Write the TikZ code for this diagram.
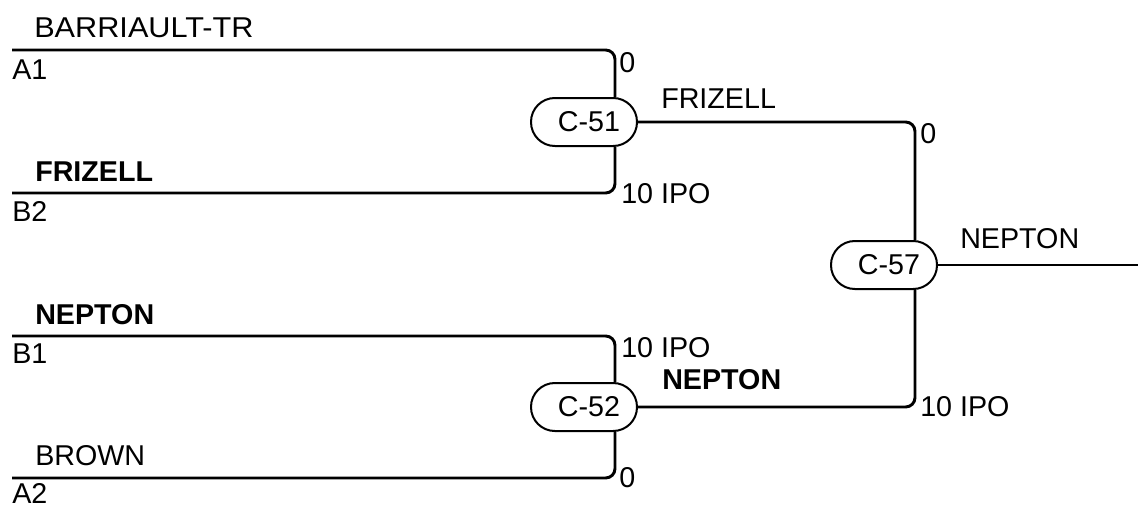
\documentclass[tikz,border=0pt]{standalone}
\usepackage{fontspec}
\setmainfont{Liberation Sans}
\usetikzlibrary{calc}
\begin{document}
\begin{tikzpicture}[x=0.75pt,y=-0.75pt,
  every node/.style={font=\fontsize{21.5pt}{25pt}\selectfont},
  match/.style={draw,line width=1.5pt,rectangle,rounded corners=17.9pt,minimum width=79.5pt,minimum height=36pt,inner sep=0pt},
  wire/.style={line width=2.2pt,rounded corners=7pt},
  lbl/.style={anchor=base west,inner sep=0pt},
  blbl/.style={lbl,font=\fontsize{21.5pt}{25pt}\selectfont\bfseries}]
\useasboundingbox (0,0) rectangle (1138,508);

% match nodes
\node[match] (c51) at (584,122) {\hspace{7.5pt}C-51};
\node[match] (c52) at (584,407) {\hspace{7.5pt}C-52};
\node[match] (c57) at (884,265) {\hspace{7.5pt}C-57};

% free ends
\coordinate (a1) at (12,50);
\coordinate (b2) at (12,193);
\coordinate (b1) at (12,336);
\coordinate (a2) at (12,478);
\coordinate (out) at (1138,265);

% connectors
\draw[wire] (a1) -| ($(c51.north)+(31,0)$);
\draw[wire] (b2) -| ($(c51.south)+(31,0)$);
\draw[wire] (b1) -| ($(c52.north)+(31,0)$);
\draw[wire] (a2) -| ($(c52.south)+(31,0)$);
\draw[wire] (c51.east) -| ($(c57.north)+(31,0)$);
\draw[wire] (c52.east) -| ($(c57.south)+(31,0)$);
\draw[wire] (c57.east) -- (out);

% team labels
\node[lbl,xscale=1.07] (t1) at (34,37) {BARRIAULT-TR};
\node[lbl] (s1) at (12,79) {A1};
\node[blbl] (t2) at (35,181) {FRIZELL};
\node[lbl] (s2) at (12,221) {B2};
\node[blbl] (t3) at (35,324) {NEPTON};
\node[lbl] (s3) at (12,363) {B1};
\node[lbl] (t4) at (35,465) {BROWN};
\node[lbl] (s4) at (12,503) {A2};

% scores
\node[lbl] (r1) at (619,72) {0};
\node[lbl] (r2) at (621,203) {10 IPO};
\node[lbl] (r3) at (621,357) {10 IPO};
\node[lbl] (r4) at (619,487) {0};
\node[lbl] (r5) at (920,143) {0};
\node[lbl] (r6) at (920,416) {10 IPO};

% winners
\node[lbl] (w1) at (661,108) {FRIZELL};
\node[blbl] (w2) at (662,389) {NEPTON};
\node[lbl] (w3) at (960,248) {NEPTON};
\end{tikzpicture}
\end{document}
